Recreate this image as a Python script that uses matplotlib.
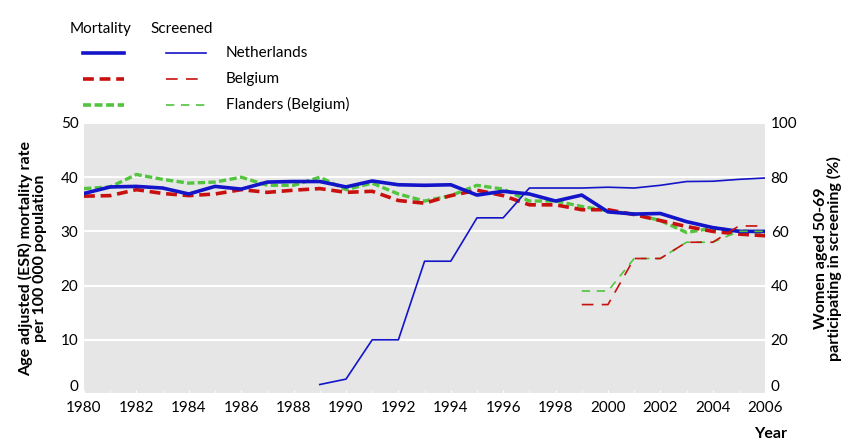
import matplotlib.pyplot as plt
from matplotlib.lines import Line2D

plt.rcParams["font.family"] = ["Lato", "DejaVu Sans"]

# Mortality (age adjusted, per 100 000)
years = list(range(1980, 2007))
nl_mort = [37.0, 38.2, 38.3, 38.0, 36.9, 38.3, 37.8, 39.1, 39.2, 39.2, 38.2, 39.3, 38.6, 38.5,
           38.6, 36.7, 37.4, 36.9, 35.6, 36.7, 33.6, 33.2, 33.3, 31.8, 30.7, 30.0, 30.0]
be_mort = [36.5, 36.6, 37.7, 37.0, 36.6, 36.9, 37.7, 37.2, 37.6, 37.9, 37.2, 37.4, 35.7, 35.2,
           36.6, 37.6, 36.6, 34.9, 34.9, 34.0, 34.0, 33.1, 32.0, 30.9, 30.0, 29.5, 29.2]
fl_mort = [37.9, 38.2, 40.5, 39.6, 38.9, 39.1, 40.0, 38.5, 38.5, 40.0, 37.7, 38.9, 36.9, 35.6,
           36.6, 38.5, 37.8, 35.6, 35.6, 34.6, 33.8, 33.2, 32.0, 29.8, 30.6, 30.1, 29.8]

# Screening participation (%)
nl_scr_years = list(range(1989, 2007))
nl_scr = [3.5, 5.5, 20, 20, 49, 49, 65, 65, 76, 76, 76, 76.3, 76, 77, 78.4, 78.5, 79.2, 79.7]
be_scr_years = list(range(1999, 2007))
be_scr = [33, 33, 50, 50, 56, 56, 62, 62]
fl_scr = [38, 38, 50, 50, 56, 56, 60, 60]

blue = "#1414c8"
red = "#c8100e"
green = "#52c43e"

fig = plt.figure(figsize=(8.53, 4.48), dpi=100)
ax = fig.add_axes([0.0985, 0.1205, 0.7985, 0.605])
ax2 = ax.twinx()

ax.set_facecolor("#e6e6e6")
for s in ax.spines.values():
    s.set_visible(False)
for s in ax2.spines.values():
    s.set_visible(False)

ax.plot(years, fl_mort, color=green, lw=2.4, ls=(0, (2.2, 1.0)), zorder=3)
ax.plot(years, be_mort, color=red, lw=2.6, ls=(0, (3.0, 1.6)), zorder=4)
ax.plot(years, nl_mort, color=blue, lw=2.6, zorder=5)

ax2.plot(nl_scr_years, nl_scr, color=blue, lw=1.2, zorder=5)
ax2.plot(be_scr_years, be_scr, color=red, lw=1.2, ls=(0, (7, 5)), zorder=4)
ax2.plot(be_scr_years, fl_scr, color=green, lw=1.2, ls=(0, (5, 4)), zorder=3)

ax.set_xlim(1980, 2006)
ax.set_ylim(0, 50)
ax2.set_ylim(0, 100)
ax.set_xticks(range(1980, 2007, 2))
ax.set_xticks(range(1980, 2007), minor=True)
ax.set_yticks(range(0, 51, 10))
ax2.set_yticks(range(0, 101, 20))
ax.grid(axis="y", color="white", lw=1.5)
ax.set_axisbelow(True)
ax.tick_params(axis="x", which="both", direction="in", length=3, color="white", labelsize=11, pad=5)
ax.tick_params(axis="y", length=0, labelsize=11, pad=4)
ax2.tick_params(axis="y", length=0, labelsize=11, pad=4)
# lift the bottom "0" labels so they sit above the year labels
ax.get_yticklabels()[0].set_verticalalignment("bottom")
ax2.get_yticklabels()[0].set_verticalalignment("bottom")

ax.set_ylabel("Age adjusted (ESR) mortality rate\nper 100 000 population",
              fontsize=11.5, fontweight="bold", linespacing=0.95, labelpad=10)
ax2.set_ylabel("Women aged 50-69\nparticipating in screening (%)", rotation=90,
               fontsize=11.5, fontweight="bold", linespacing=0.95, labelpad=12)
fig.text(0.903, 0.022, "Year", fontsize=11.5, fontweight="bold", ha="center")

# custom two-column legend
fig.text(0.082, 0.935, "Mortality", fontsize=11, va="center")
fig.text(0.176, 0.935, "Screened", fontsize=11, va="center")
rows = [("Netherlands", blue, "-", "-"),
        ("Belgium", red, (0, (3.0, 1.6)), (0, (7, 5))),
        ("Flanders (Belgium)", green, (0, (2.2, 1.0)), (0, (5, 4)))]
for i, (name, col, ls_m, ls_s) in enumerate(rows):
    y = 0.882 - i * 0.058
    fig.add_artist(Line2D([0.097, 0.145], [y, y], color=col, lw=2.6, ls=ls_m))
    fig.add_artist(Line2D([0.195, 0.242], [y, y], color=col, lw=1.2, ls=ls_s))
    fig.text(0.265, y, name, fontsize=11, va="center")

fig.savefig("out.png", dpi=100)
